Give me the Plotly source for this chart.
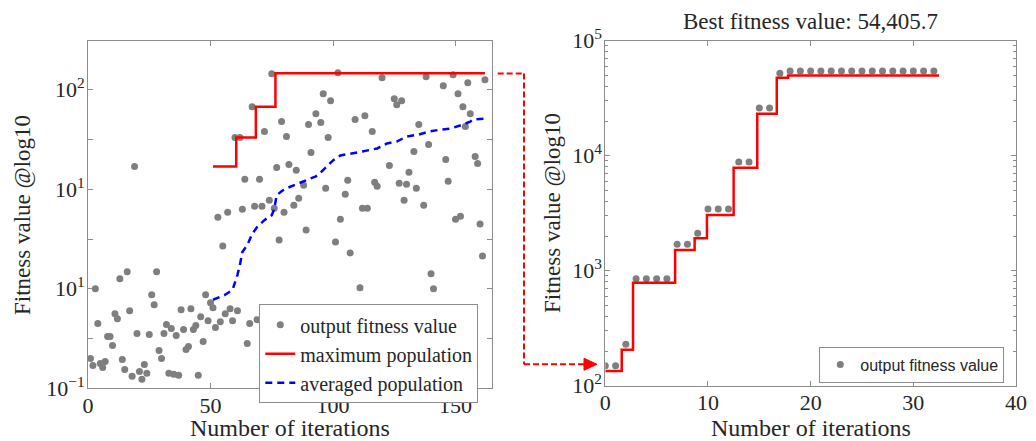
import plotly.graph_objects as go

# ---------------- Left panel data ----------------
iter_left = list(range(1, 163))
fitness_left = [
    0.30, 0.23, 1.00, 0.65, 0.25, 0.21, 0.27, 0.52, 0.52, 0.43,
    0.75, 0.70, 1.10, 0.29, 0.19, 1.17, 0.78, 0.12, 2.23, 0.55,
    0.17, 0.09, 0.24, 0.15, 0.54, 0.94, 0.84, 1.17, 0.38, 0.30,
    0.55, 0.64, 0.15, 0.60, 0.14, 0.53, 0.13, 0.79, 0.59, 0.39,
    0.42, 0.80, 0.59, 0.63, 0.13, 0.72, 0.47, 0.94, 0.68, 0.86,
    0.81, 0.61, 1.72, 0.67, 1.43, 0.75, 1.77, 0.80, 0.68, 2.52,
    0.78, 2.52, 1.80, 2.10, 0.45, 0.65, 2.83, 1.83, 0.69, 2.10,
    1.83, 2.58, 0.55, 1.89, 3.16, 1.81, 2.22, 1.49, 2.68, 1.77,
    2.53, 2.25, 0.40, 1.84, 2.19, 1.91, 0.70, 2.04, 1.59, 2.65,
    2.37, 0.30, 2.76, 0.60, 2.67, 2.96, 2.01, 2.52, 2.89, 0.50,
    1.47, 3.17, 1.70, 0.75, 1.95, 2.09, 1.36, 0.35, 2.70, 0.60,
    1.01, 1.81, 2.74, 1.81, 0.45, 2.58, 2.07, 2.03, 0.70, 3.12,
    0.50, 0.30, 2.24, 0.65, 2.91, 2.85, 2.06, 2.89, 1.89, 2.05,
    2.17, 0.55, 2.38, 2.01, 2.65, 0.40, 1.84, 3.13, 2.45, 1.15,
    1.00, 0.60, 0.30, 0.75, 3.04, 2.30, 2.08, 0.50, 3.15, 1.70,
    2.96, 1.73, 2.83, 2.63, 3.07, 2.76, 0.45, 2.33, 2.26, 1.65,
    1.33, 3.10,
]
max_iter = [51, 60.5, 68.5, 76.5, 162]
max_val = [2.23, 2.52, 2.83, 3.165, 3.165]
avg_iter = [51, 53, 56, 59, 60, 61, 62, 63, 65, 67, 69, 72, 75, 76, 77, 79, 81,
            85, 88, 93, 95, 97, 100, 103, 108, 112, 118, 122, 126, 130, 135,
            139, 144, 148, 153, 156, 157, 162]
avg_val = [0.89, 0.91, 0.94, 0.99, 1.06, 1.14, 1.24, 1.37, 1.44, 1.55, 1.62,
           1.69, 1.74, 1.80, 1.94, 1.98, 2.01, 2.05, 2.08, 2.13, 2.17, 2.22,
           2.29, 2.34, 2.36, 2.38, 2.41, 2.46, 2.48, 2.53, 2.55, 2.58, 2.60,
           2.61, 2.65, 2.68, 2.70, 2.71]
left_ytick_vals = [0, 0.5, 1, 1.5, 2, 2.5, 3]
left_ytick_text = ["10<sup>−1</sup>", "", "10<sup>1</sup>", "", "10<sup>1</sup>", "", "10<sup>2</sup>"]
left_xtick_vals = [0, 50, 100, 150]

# ---------------- Right panel data ----------------
iter_right = list(range(0, 33))
fitness_right = [149, 149, 229, 851, 851, 851, 851, 1700, 1700, 2115,
                 3443, 3443, 3443, 8810, 8810, 26000, 26000, 52000,
                 54405.7, 54405.7, 54405.7, 54405.7, 54405.7, 54405.7,
                 54405.7, 54405.7, 54405.7, 54405.7, 54405.7, 54405.7,
                 54405.7, 54405.7, 54405.7]
best_iter = [0, 1.6, 2.7, 6.8, 8.7, 9.9, 12.5, 14.8, 16.7, 17.8, 32.5]
best_val = [134, 205, 787, 1513, 1914, 3048, 7870, 23200, 47600, 49700, 49700]
right_ytick_vals = [100, 1000, 10000, 100000]
right_ytick_text = ["10<sup>2</sup>", "10<sup>3</sup>", "10<sup>4</sup>", "10<sup>5</sup>"]
right_minor_vals = [m * d for d in (100, 1000, 10000) for m in range(2, 10)]
right_xtick_vals = [0, 10, 20, 30, 40]
best_value_text = "54,405.7"

W, H = 1036, 441
SERIF = "Liberation Serif"
SANS = "Liberation Sans"
TXT = "#262626"
AX = "#8c8c8c"
DOT = "#7f7f7f"


def px(x):
    return x / W


def py(y):
    return 1 - y / H


fig = go.Figure()

fig.add_trace(go.Scatter(x=iter_left, y=fitness_left, mode="markers",
                         marker=dict(color=DOT, size=7),
                         name="output fitness value", xaxis="x", yaxis="y",
                         legend="legend"))
fig.add_trace(go.Scatter(x=max_iter, y=max_val, mode="lines", line_shape="hv",
                         line=dict(color="#ff0000", width=2.5),
                         name="maximum population", xaxis="x", yaxis="y",
                         legend="legend"))
fig.add_trace(go.Scatter(x=avg_iter, y=avg_val, mode="lines",
                         line=dict(color="#0000ff", width=2.5, dash="7px,5px"),
                         name="averaged population", xaxis="x", yaxis="y",
                         legend="legend"))

fig.add_trace(go.Scatter(x=iter_right, y=fitness_right, mode="markers",
                         marker=dict(color=DOT, size=7),
                         name="output fitness value", xaxis="x2", yaxis="y2",
                         legend="legend2"))
fig.add_trace(go.Scatter(x=best_iter, y=best_val, mode="lines", line_shape="hv",
                         line=dict(color="#ff0000", width=2.5),
                         showlegend=False, xaxis="x2", yaxis="y2"))

common = dict(showline=True, linecolor=AX, linewidth=1, mirror="allticks",
              ticks="inside", ticklen=5, tickcolor=AX, showgrid=False,
              zeroline=False, automargin=False,
              tickfont=dict(family=SERIF, size=22, color=TXT))

fig.update_layout(
    width=W, height=H, autosize=False,
    margin=dict(l=0, r=0, t=0, b=0, pad=0, autoexpand=False),
    paper_bgcolor="white", plot_bgcolor="white",
    xaxis=dict(domain=[px(88), px(492.3)], range=[0, 165],
               tickvals=left_xtick_vals, anchor="y", ticklabelstandoff=-3,
               **common),
    yaxis=dict(domain=[py(388.3), py(41)], range=[0, 3.49],
               tickvals=left_ytick_vals, ticktext=left_ytick_text,
               anchor="x", ticklabelstandoff=-2, **common),
    xaxis2=dict(domain=[px(605.3), px(1016)], range=[0, 40],
                tickvals=right_xtick_vals, anchor="y2", ticklabelstandoff=-3,
                **common),
    yaxis2=dict(domain=[py(385.7), py(40.7)], type="log", range=[2, 5],
                tickvals=right_ytick_vals, ticktext=right_ytick_text,
                anchor="x2", ticklabelstandoff=-2,
                minor=dict(ticks="inside", ticklen=3, tickcolor=AX,
                           tickvals=right_minor_vals, showgrid=False),
                **common),
    legend=dict(x=px(259.3), y=py(304.3), xanchor="left", yanchor="top",
                bgcolor="white", bordercolor=AX, borderwidth=1,
                font=dict(family=SERIF, size=20, color=TXT),
                tracegroupgap=0),
    legend2=dict(x=px(819.3), y=py(346.7), xanchor="left", yanchor="top",
                 bgcolor="white", bordercolor=AX, borderwidth=1,
                 font=dict(family=SANS, size=16, color=TXT)),
    showlegend=True,
)

ann_font = dict(family=SERIF, size=24, color=TXT)
fig.add_annotation(x=px(290), y=py(428), xref="paper", yref="paper",
                   text="Number of iterations", showarrow=False, font=ann_font,
                   xanchor="center", yanchor="middle")
fig.add_annotation(x=px(810.7), y=py(428), xref="paper", yref="paper",
                   text="Number of iterations", showarrow=False, font=ann_font,
                   xanchor="center", yanchor="middle")
fig.add_annotation(x=px(23), y=py(215), xref="paper", yref="paper",
                   text="Fitness value @log10", showarrow=False,
                   font=dict(family=SERIF, size=23, color=TXT),
                   textangle=-90, xanchor="center", yanchor="middle")
fig.add_annotation(x=px(552), y=py(213), xref="paper", yref="paper",
                   text="Fitness value @log10", showarrow=False,
                   font=dict(family=SERIF, size=23, color=TXT),
                   textangle=-90, xanchor="center", yanchor="middle")
fig.add_annotation(x=px(810.7), y=py(22), xref="paper", yref="paper",
                   text="Best fitness value: " + best_value_text, showarrow=False,
                   font=dict(family=SERIF, size=23, color=TXT),
                   xanchor="center", yanchor="middle")

# connector arrow between panels
dash_line = dict(color="#ff0000", width=2, dash="6px,3px")
fig.add_shape(type="line", xref="paper", yref="paper",
              x0=px(497.7), y0=py(73.5), x1=px(524), y1=py(73.5), line=dash_line)
fig.add_shape(type="line", xref="paper", yref="paper",
              x0=px(524), y0=py(73.5), x1=px(524), y1=py(364.3), line=dash_line)
fig.add_shape(type="line", xref="paper", yref="paper",
              x0=px(524), y0=py(364.3), x1=px(585), y1=py(364.3), line=dash_line)
fig.add_shape(type="path", xref="paper", yref="paper",
              path=f"M {px(584)} {py(358.3)} L {px(597)} {py(364.3)} L {px(584)} {py(370.3)} Z",
              fillcolor="#ff0000", line=dict(color="#ff0000", width=1))

fig.write_html("out.html", config={"displayModeBar": False},
               post_script="document.body.style.margin='0';document.body.style.overflow='hidden';")
